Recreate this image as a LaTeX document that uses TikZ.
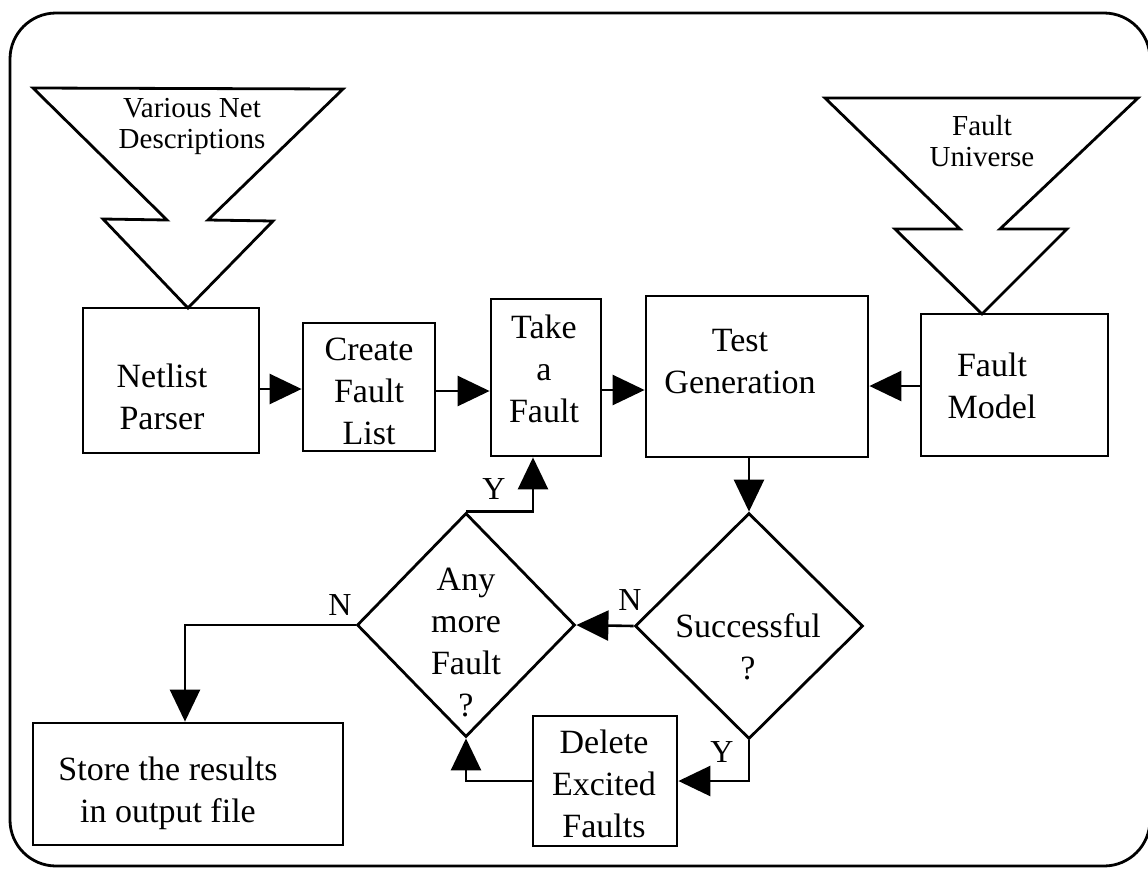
\documentclass[tikz,border=0pt]{standalone}
\usepackage{fontspec}
\setmainfont{Liberation Serif}
\usetikzlibrary{arrows.meta,shapes.geometric}
\begin{document}
\begin{tikzpicture}[x=0.5pt,y=-0.5pt,
  box/.style={draw,line width=1.4pt,inner sep=0pt},
  dia/.style={draw,diamond,line width=1.4pt,inner sep=0pt},
  lbl/.style={font=\fontsize{17}{21}\selectfont,align=center,inner sep=0pt},
  small/.style={font=\fontsize{14.5}{15.5}\selectfont,align=center,inner sep=0pt},
  yn/.style={font=\fontsize{16}{18}\selectfont,inner sep=0pt},
  arr/.style={line width=1.3pt,-{Triangle[length=16pt,width=15pt]}},
  funnel/.style={draw,line width=1.4pt,line join=miter}]
\useasboundingbox (0,0) rectangle (1148,869);

% outer frame
\begin{scope}
  \clip (0,0) rectangle (1148,869);
  \draw[line width=1.4pt,rounded corners=23pt] (10,13) rectangle (1150,866);
\end{scope}

% input funnels
\draw[funnel] (33,88) -- (343,89) -- (208,220) -- (273,221) -- (188,308)
  -- (103,219) -- (167,220) -- cycle;
\draw[funnel] (825,98) -- (1138,98) -- (1000,229) -- (1067,229) -- (982,314)
  -- (895,229) -- (960,229) -- cycle;
\node[small] (tnet) at (192,126) {Various Net\\Descriptions};
\node[small] (tuni) at (982,141) {Fault\\Universe};

% process boxes
\node[box,minimum width=88pt,minimum height=72.5pt] (netlist) at (171,380.5) {};
\node[box,minimum width=66pt,minimum height=64pt] (create) at (369,387) {};
\node[box,minimum width=55pt,minimum height=78.5pt] (take) at (546,377.5) {};
\node[box,minimum width=111pt,minimum height=80.5pt] (tg) at (757,376.5) {};
\node[box,minimum width=93.5pt,minimum height=71pt] (fm) at (1014.5,385) {};
\node[box,minimum width=72pt,minimum height=65pt] (delete) at (605,781) {};
\node[box,minimum width=155pt,minimum height=61pt] (store) at (188,784) {};

% decisions
\node[dia,minimum width=114pt,minimum height=113pt] (succ) at (749,626) {};
\node[dia,minimum width=109pt,minimum height=112pt] (anymore) at (466,625) {};

% texts
\node[lbl] (tnetlist) at (162,397) {Netlist\\Parser};
\node[lbl] (tcreate) at (369,391) {Create\\Fault\\List};
\node[lbl] (ttake) at (544,369) {Take\\a\\Fault};
\node[lbl] (ttg) at (740,362) {Test\\Generation};
\node[lbl] (tfm) at (992,386) {Fault\\Model};
\node[lbl] (tdelete) at (604,784) {Delete\\Excited\\Faults};
\node[lbl] (tstore) at (168,793) {Store the results\\in output file};
\node[lbl] (tsucc) at (748,647) {Successful\\?};
\node[lbl] (tany) at (466,643) {Any\\more\\Fault\\?};

% branch labels
\node[yn] (ly1) at (494,489) {Y};
\node[yn] (ln1) at (630,600) {N};
\node[yn] (ly2) at (722,752) {Y};
\node[yn] (ln2) at (340,605) {N};

% connectors
\coordinate (r1) at (0,389);
\coordinate (r2) at (0,391);
\coordinate (r3) at (0,390);
\coordinate (r4) at (0,386);
\coordinate (tk) at (533,0);
\coordinate (st) at (185,0);
\draw[arr] (netlist.east |- r1) -- (create.west |- r1);
\draw[arr] (create.east |- r2) -- (take.west |- r2);
\draw[arr] (take.east |- r3) -- (tg.west |- r3);
\draw[arr] (fm.west |- r4) -- (tg.east |- r4);
\draw[arr] (succ.north |- tg.south) -- (succ.north);
\draw[arr] (succ.west) -- (anymore.east);
\draw[arr] (succ.south) |- (delete.east);
\draw[arr] (delete.west) -| (anymore.south);
\draw[arr] (anymore.north) -| (take.south -| tk);
\draw[arr] (anymore.west) -| (store.north -| st);
\end{tikzpicture}
\end{document}
